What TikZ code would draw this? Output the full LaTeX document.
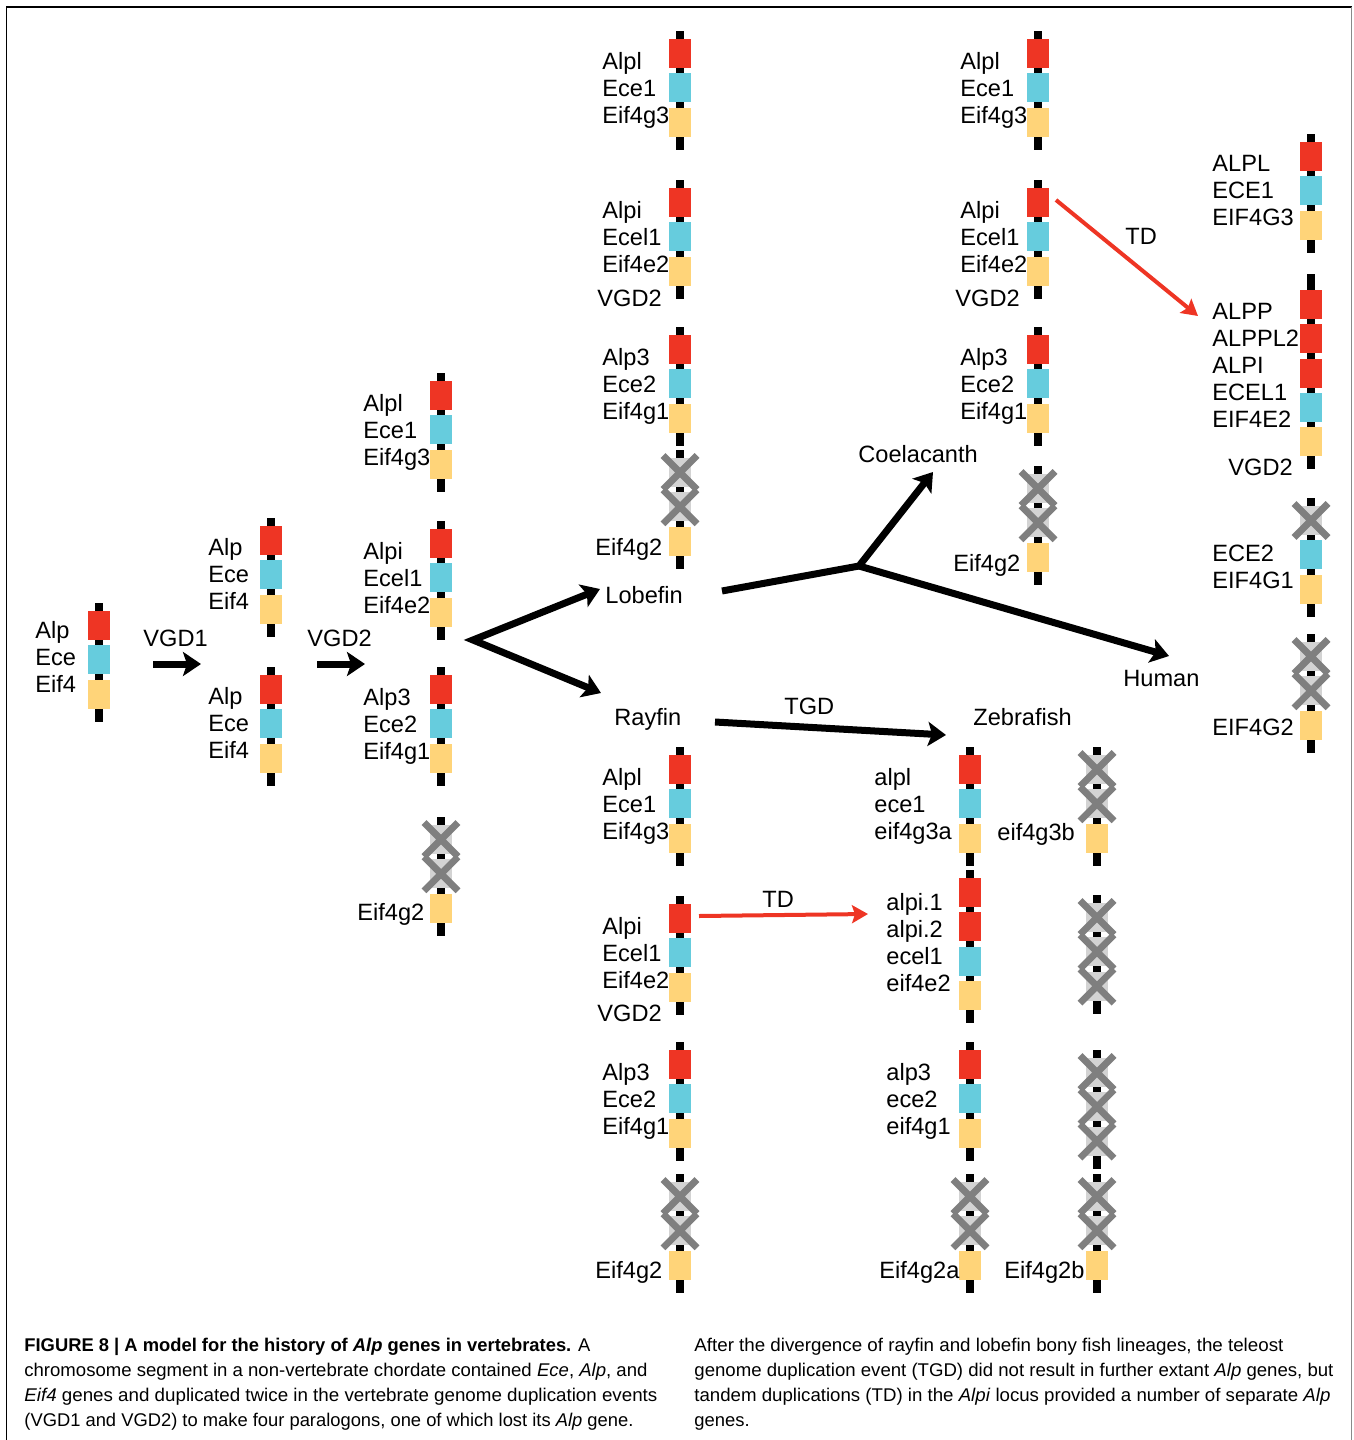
\documentclass[tikz,border=0pt]{standalone}
\usepackage{fontspec}
\setmainfont{Liberation Sans}
\usepackage{graphicx}
\usetikzlibrary{arrows.meta}
\definecolor{cred}{HTML}{EE3524}
\definecolor{cblue}{HTML}{66CCDD}
\definecolor{cyel}{HTML}{FFD479}
\definecolor{cgbox}{HTML}{D3D3D3}
\definecolor{cxl}{HTML}{7F7F7F}
\definecolor{cframe}{HTML}{8A8A8A}
\newcount\gcnt
\newcommand\gbox[1]{\fill[#1] (-11,{\the\gcnt*34.3}) rectangle (11,{\the\gcnt*34.3+29});}
\newcommand\gR{\gbox{cred}\global\advance\gcnt by 1 }
\newcommand\gB{\gbox{cblue}\global\advance\gcnt by 1 }
\newcommand\gY{\gbox{cyel}\global\advance\gcnt by 1 }
\newcommand\gX{\gbox{cgbox}\draw[xline] (-17,{\the\gcnt*34.3-2.5}) -- (17,{\the\gcnt*34.3+31.5}) (-17,{\the\gcnt*34.3+31.5}) -- (17,{\the\gcnt*34.3-2.5});\global\advance\gcnt by 1 }
\newcommand\chrom[4]{%
  \begin{scope}[shift={(#1,#2)}]
    \fill[black] (-4,-8) rectangle (4,{(#3-1)*34.3+42});
    \global\gcnt=0
    #4
  \end{scope}}
\begin{document}
\begin{tikzpicture}[x=0.5pt,y=-0.5pt,
  lbl/.style={anchor=north west, inner sep=0pt, align=left, font=\fontsize{11.8}{13.5}\selectfont},
  word/.style={anchor=base west, inner sep=0pt, font=\fontsize{11.8}{13.5}\selectfont},
  bigarrow/.style={line width=3.5pt, line join=miter, -{Stealth[length=9pt,width=12pt,inset=2pt]}},
  redarrow/.style={draw=cred, line width=2pt, -{Stealth[length=8pt,width=9pt,inset=1.5pt]}},
  xline/.style={draw=cxl, line width=3.4pt},
  capt/.style={anchor=base west, inner sep=0pt, font=\fontsize{9.2}{11}\selectfont}]
\useasboundingbox (0,0) rectangle (1354,1440);
% frame
\draw[line width=0.8pt] (6.5,1440) -- (6.5,7) -- (1352,7);
\draw[line width=0.8pt, draw=cframe] (1351.5,7) -- (1351.5,1440);

% chromosomes
\chrom{99}{611}{3}{\gR\gB\gY}
\chrom{271}{526}{3}{\gR\gB\gY}
\chrom{271}{675}{3}{\gR\gB\gY}
\chrom{441}{381}{3}{\gR\gB\gY}
\chrom{441}{529}{3}{\gR\gB\gY}
\chrom{441}{675}{3}{\gR\gB\gY}
\chrom{441}{825}{3}{\gX\gX\gY}
% lobefin
\chrom{680}{39}{3}{\gR\gB\gY}
\chrom{680}{188}{3}{\gR\gB\gY}
\chrom{680}{335}{3}{\gR\gB\gY}
\chrom{680}{458}{3}{\gX\gX\gY}
% coelacanth
\chrom{1038}{39}{3}{\gR\gB\gY}
\chrom{1038}{188}{3}{\gR\gB\gY}
\chrom{1038}{335}{3}{\gR\gB\gY}
\chrom{1038}{474}{3}{\gX\gX\gY}
% human
\chrom{1311}{142}{3}{\gR\gB\gY}
\fill[black] (1307,274) rectangle (1315,290);
\chrom{1311}{290}{5}{\gR\gR\gR\gB\gY}
\chrom{1311}{506}{3}{\gX\gB\gY}
\chrom{1311}{642}{3}{\gX\gX\gY}
% rayfin
\chrom{680}{755}{3}{\gR\gB\gY}
\chrom{680}{904}{3}{\gR\gB\gY}
\chrom{680}{1050}{3}{\gR\gB\gY}
\chrom{680}{1182}{3}{\gX\gX\gY}
% zebrafish
\chrom{970}{755}{3}{\gR\gB\gY}
\chrom{970}{878}{4}{\gR\gR\gB\gY}
\chrom{970}{1050}{3}{\gR\gB\gY}
\chrom{970}{1182}{3}{\gX\gX\gY}
\chrom{1097}{755}{3}{\gX\gX\gY}
\chrom{1097}{903}{3}{\gX\gX\gX}
\chrom{1097}{1058}{3}{\gX\gX\gX}
\chrom{1097}{1182}{3}{\gX\gX\gY}

% gene labels
\node[lbl] (lA) at (35,621) {Alp\\Ece\\Eif4};
\node[lbl] (lB1) at (208,537.5) {Alp\\Ece\\Eif4};
\node[lbl] (lB2) at (208,687) {Alp\\Ece\\Eif4};
\node[lbl] (lC1) at (363,393.5) {Alpl\\Ece1\\Eif4g3};
\node[lbl] (lC2) at (363,541.5) {Alpi\\Ecel1\\Eif4e2};
\node[lbl] (lC3) at (363,687.5) {Alp3\\Ece2\\Eif4g1};
\node[lbl] (lC4) at (357,902.5) {Eif4g2};
\node[lbl] (lD1) at (602,51.7) {Alpl\\Ece1\\Eif4g3};
\node[lbl] (lD2) at (602,200.5) {Alpi\\Ecel1\\Eif4e2};
\node[lbl] (vD) at (597,289.5) {VGD2};
\node[lbl] (lD3) at (602,347.5) {Alp3\\Ece2\\Eif4g1};
\node[lbl] (lD4) at (595,537.5) {Eif4g2};
\node[lbl] (lE1) at (960,51.7) {Alpl\\Ece1\\Eif4g3};
\node[lbl] (lE2) at (960,200.5) {Alpi\\Ecel1\\Eif4e2};
\node[lbl] (vE) at (955,289.5) {VGD2};
\node[lbl] (lE3) at (960,347.5) {Alp3\\Ece2\\Eif4g1};
\node[lbl] (lE4) at (953,553.5) {Eif4g2};
\node[lbl] (lF1) at (1212,154.5) {ALPL\\ECE1\\EIF4G3};
\node[lbl] (lF2) at (1212,302.5) {ALPP\\ALPPL2\\ALPI\\ECEL1\\EIF4E2};
\node[lbl] (vF) at (1228,458.5) {VGD2};
\node[lbl] (lF3) at (1212,544.5) {ECE2\\EIF4G1};
\node[lbl] (lF4) at (1212,718.5) {EIF4G2};
\node[lbl] (lG1) at (602,767.5) {Alpl\\Ece1\\Eif4g3};
\node[lbl] (lG2) at (602,916.5) {Alpi\\Ecel1\\Eif4e2};
\node[lbl] (vG) at (597,1004.5) {VGD2};
\node[lbl] (lG3) at (602,1062.5) {Alp3\\Ece2\\Eif4g1};
\node[lbl] (lG4) at (595,1260.5) {Eif4g2};
\node[lbl] (lH1) at (874,767.5) {alpl\\ece1\\eif4g3a};
\node[lbl] (lH2) at (886,892.5) {alpi.1\\alpi.2\\ecel1\\eif4e2};
\node[lbl] (lH3) at (886,1062.5) {alp3\\ece2\\eif4g1};
\node[lbl] (lH4) at (879,1260.5) {Eif4g2a};
\node[lbl] (lI1) at (997,822.5) {eif4g3b};
\node[lbl] (lI4) at (1004,1260.5) {Eif4g2b};

% event and lineage labels
\node[word] (vgd1) at (143,646.5) {VGD1};
\node[word] (vgd2) at (307,646.5) {VGD2};
\node[word] (lobefin) at (605,603) {Lobefin};
\node[word] (rayfin) at (614,725.5) {Rayfin};
\node[word] (coel) at (858,462.5) {Coelacanth};
\node[word] (human) at (1123,686.5) {Human};
\node[word] (zebra) at (973,725.5) {Zebrafish};
\node[word] (tgd) at (784,714.5) {TGD};
\node[word] (td1) at (1125,244.5) {TD};
\node[word] (td2) at (762,907.5) {TD};

% arrows
\coordinate (v1s) at (153,664); \coordinate (v1e) at (201,664);
\coordinate (v2s) at (317,664); \coordinate (v2e) at (365,664);
\draw[bigarrow] (v1s) -- (v1e);
\draw[bigarrow] (v2s) -- (v2e);
\coordinate (split) at (473,640);
\coordinate (lobtip) at (600,589);
\coordinate (raytip) at (601,693);
\draw[line width=3.5pt, line join=miter, {Stealth[length=9pt,width=12pt,inset=2pt]}-{Stealth[length=9pt,width=12pt,inset=2pt]}] (lobtip) -- (split) -- (raytip);
\coordinate (lobstart) at (722,591);
\coordinate (junc) at (859,566);
\coordinate (coetip) at (933,472);
\coordinate (humtip) at (1169,656);
\draw[bigarrow] (lobstart) -- (junc) -- (coetip);
\draw[bigarrow] (junc) -- (humtip);
\coordinate (tgds) at (715,722);
\coordinate (tgde) at (946,735);
\draw[bigarrow] (tgds) -- (tgde);
\coordinate (td1s) at (1056,200);
\coordinate (td1e) at (1198,316);
\draw[redarrow] (td1s) -- (td1e);
\coordinate (td2s) at (699,916);
\coordinate (td2e) at (868,914);
\draw[redarrow] (td2s) -- (td2e);

% caption
\node[capt] (c1) at (24,1351) {\resizebox{283pt}{\height}{\textbf{FIGURE 8 | A model for the history of \textit{Alp} genes in vertebrates.} A}};
\node[capt] (c2) at (24,1376) {\resizebox{311.5pt}{\height}{chromosome segment in a non-vertebrate chordate contained \textit{Ece}, \textit{Alp}, and}};
\node[capt] (c3) at (24,1401) {\resizebox{316.5pt}{\height}{\textit{Eif4} genes and duplicated twice in the vertebrate genome duplication events}};
\node[capt] (c4) at (24,1426) {\resizebox{304.5pt}{\height}{(VGD1 and VGD2) to make four paralogons, one of which lost its \textit{Alp} gene.}};
\node[capt] (r1) at (694,1351) {\resizebox{294.5pt}{\height}{After the divergence of rayfin and lobefin bony fish lineages, the teleost}};
\node[capt] (r2) at (694,1376) {\resizebox{319.5pt}{\height}{genome duplication event (TGD) did not result in further extant \textit{Alp} genes, but}};
\node[capt] (r3) at (694,1401) {\resizebox{318pt}{\height}{tandem duplications (TD) in the \textit{Alpi} locus provided a number of separate \textit{Alp}}};
\node[capt] (r4) at (694,1426) {genes.};
\end{tikzpicture}
\end{document}
